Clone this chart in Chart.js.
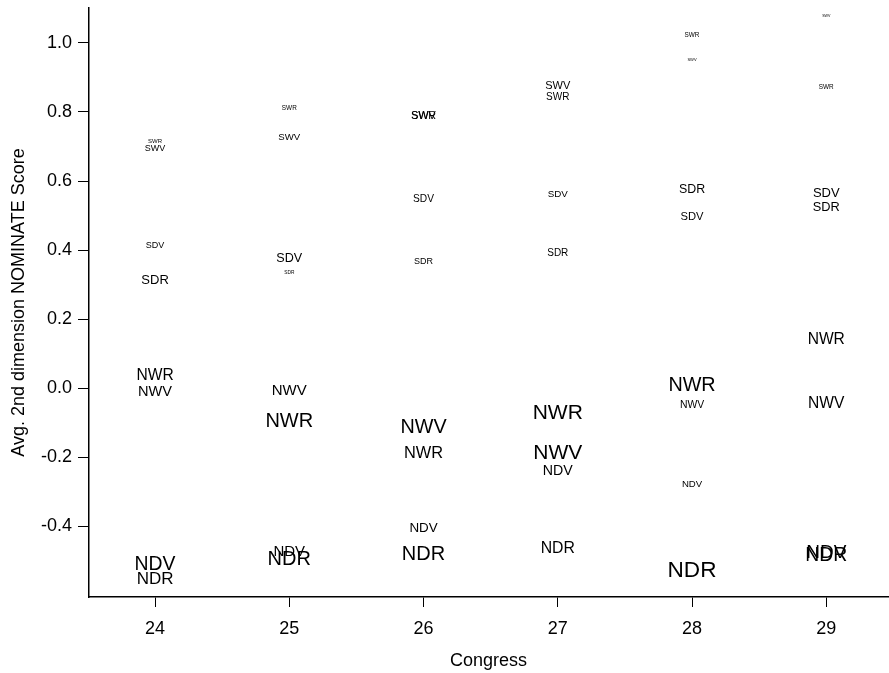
<!DOCTYPE html>
<html>
<head>
<meta charset="utf-8">
<script src="https://cdn.jsdelivr.net/npm/chart.js@4/dist/chart.umd.min.js"></script>
<style>
  html, body { margin: 0; padding: 0; background: #fff; }
  #wrap { width: 889px; height: 673px; }
</style>
</head>
<body>
<div id="wrap"><canvas id="c" width="889" height="673"></canvas></div>
<script>
// Categories (Congress) and tick labels
const congresses = [24, 25, 26, 27, 28, 29];
const yTicks = [-0.4, -0.2, 0.0, 0.2, 0.4, 0.6, 0.8, 1.0];

// Avg. 2nd dimension NOMINATE score per group, per congress (24..29)
const SWR = [0.717, 0.812, 0.792, 0.844, 1.023, 0.873];
const SWV = [0.697, 0.728, 0.790, 0.879, 0.951, 1.078];
const SDV = [0.416, 0.379, 0.549, 0.564, 0.500, 0.566];
const SDR = [0.315, 0.335, 0.370, 0.393, 0.578, 0.526];
const NWR = [0.040, -0.092, -0.185, -0.066, 0.014, 0.145];
const NWV = [-0.006, -0.003, -0.110, -0.182, -0.046, -0.040];
const NDV = [-0.506, -0.471, -0.402, -0.237, -0.277, -0.471];
const NDR = [-0.549, -0.491, -0.477, -0.460, -0.523, -0.480];

// Relative label weight (cex, proportional to group size)
const wSWR = [0.30, 0.32, 0.54, 0.50, 0.32, 0.32];
const wSWV = [0.45, 0.48, 0.54, 0.55, 0.20, 0.18];
const wSDV = [0.45, 0.63, 0.51, 0.49, 0.56, 0.65];
const wSDR = [0.65, 0.24, 0.45, 0.50, 0.62, 0.64];
const wNWR = [0.78, 1.00, 0.82, 1.05, 0.99, 0.78];
const wNWV = [0.73, 0.75, 0.99, 1.05, 0.52, 0.78];
const wNDV = [0.97, 0.75, 0.67, 0.71, 0.48, 0.95];
const wNDR = [0.85, 1.00, 1.00, 0.79, 1.13, 0.97];

const groups = [
  ['SWR', SWR, wSWR], ['SWV', SWV, wSWV], ['SDV', SDV, wSDV], ['SDR', SDR, wSDR],
  ['NWR', NWR, wNWR], ['NWV', NWV, wNWV], ['NDV', NDV, wNDV], ['NDR', NDR, wNDR]
];

const BASE = 20;
const FONT = '"Liberation Sans", Arial, Helvetica, sans-serif';

const datasets = groups.map(([name, vals, w]) => ({
  label: name,
  data: congresses.map((c, i) => ({ x: c, y: vals[i], w: w[i] })),
  pointRadius: 0,
  showLine: false
}));

const textLabels = {
  id: 'textLabels',
  afterDatasetsDraw(chart) {
    const ctx = chart.ctx;
    ctx.save();
    ctx.fillStyle = '#000';
    ctx.textAlign = 'center';
    ctx.textBaseline = 'alphabetic';
    chart.data.datasets.forEach((ds, di) => {
      const meta = chart.getDatasetMeta(di);
      meta.data.forEach((el, i) => {
        const size = ds.data[i].w * BASE;
        ctx.font = size.toFixed(2) + 'px ' + FONT;
        ctx.fillText(ds.label, el.x, el.y + size * 0.36);
      });
    });
    ctx.restore();
  }
};

new Chart(document.getElementById('c'), {
  type: 'scatter',
  data: { datasets },
  plugins: [textLabels],
  options: {
    responsive: false,
    animation: false,
    layout: { padding: { top: 8, right: 1, left: 0, bottom: 0 } },
    plugins: { legend: { display: false }, tooltip: { enabled: false } },
    scales: {
      x: {
        type: 'linear',
        min: 23.508,
        max: 29.46,
        afterBuildTicks: (s) => { s.ticks = congresses.map(v => ({ value: v })); },
        afterFit: (s) => { s.height = 76; s.paddingLeft = 0; s.paddingRight = 0; },
        grid: { display: true, drawOnChartArea: false, drawTicks: true, tickLength: 10, color: '#000', lineWidth: 1 },
        border: { display: true, color: '#000', width: 1.5 },
        ticks: { color: '#000', font: { size: 18, family: FONT }, padding: 11, maxRotation: 0,
                 callback: (v) => String(v) },
        title: { display: true, text: 'Congress', color: '#000', font: { size: 18, family: FONT },
                 padding: { top: 0, bottom: 1 } }
      },
      y: {
        type: 'linear',
        min: -0.604,
        max: 1.101,
        afterBuildTicks: (s) => { s.ticks = yTicks.map(v => ({ value: v })); },
        afterFit: (s) => { s.width = 89; s.paddingTop = 0; s.paddingBottom = 0; },
        grid: { display: true, drawOnChartArea: false, drawTicks: true, tickLength: 11, color: '#000', lineWidth: 1 },
        border: { display: true, color: '#000', width: 1.5 },
        ticks: { color: '#000', font: { size: 18, family: FONT }, padding: 6,
                 callback: (v) => Number(v).toFixed(1) },
        title: { display: true, text: 'Avg. 2nd dimension NOMINATE Score', color: '#000',
                 font: { size: 18, family: FONT }, padding: { top: 8, bottom: 0 } }
      }
    }
  }
});
</script>
</body>
</html>
